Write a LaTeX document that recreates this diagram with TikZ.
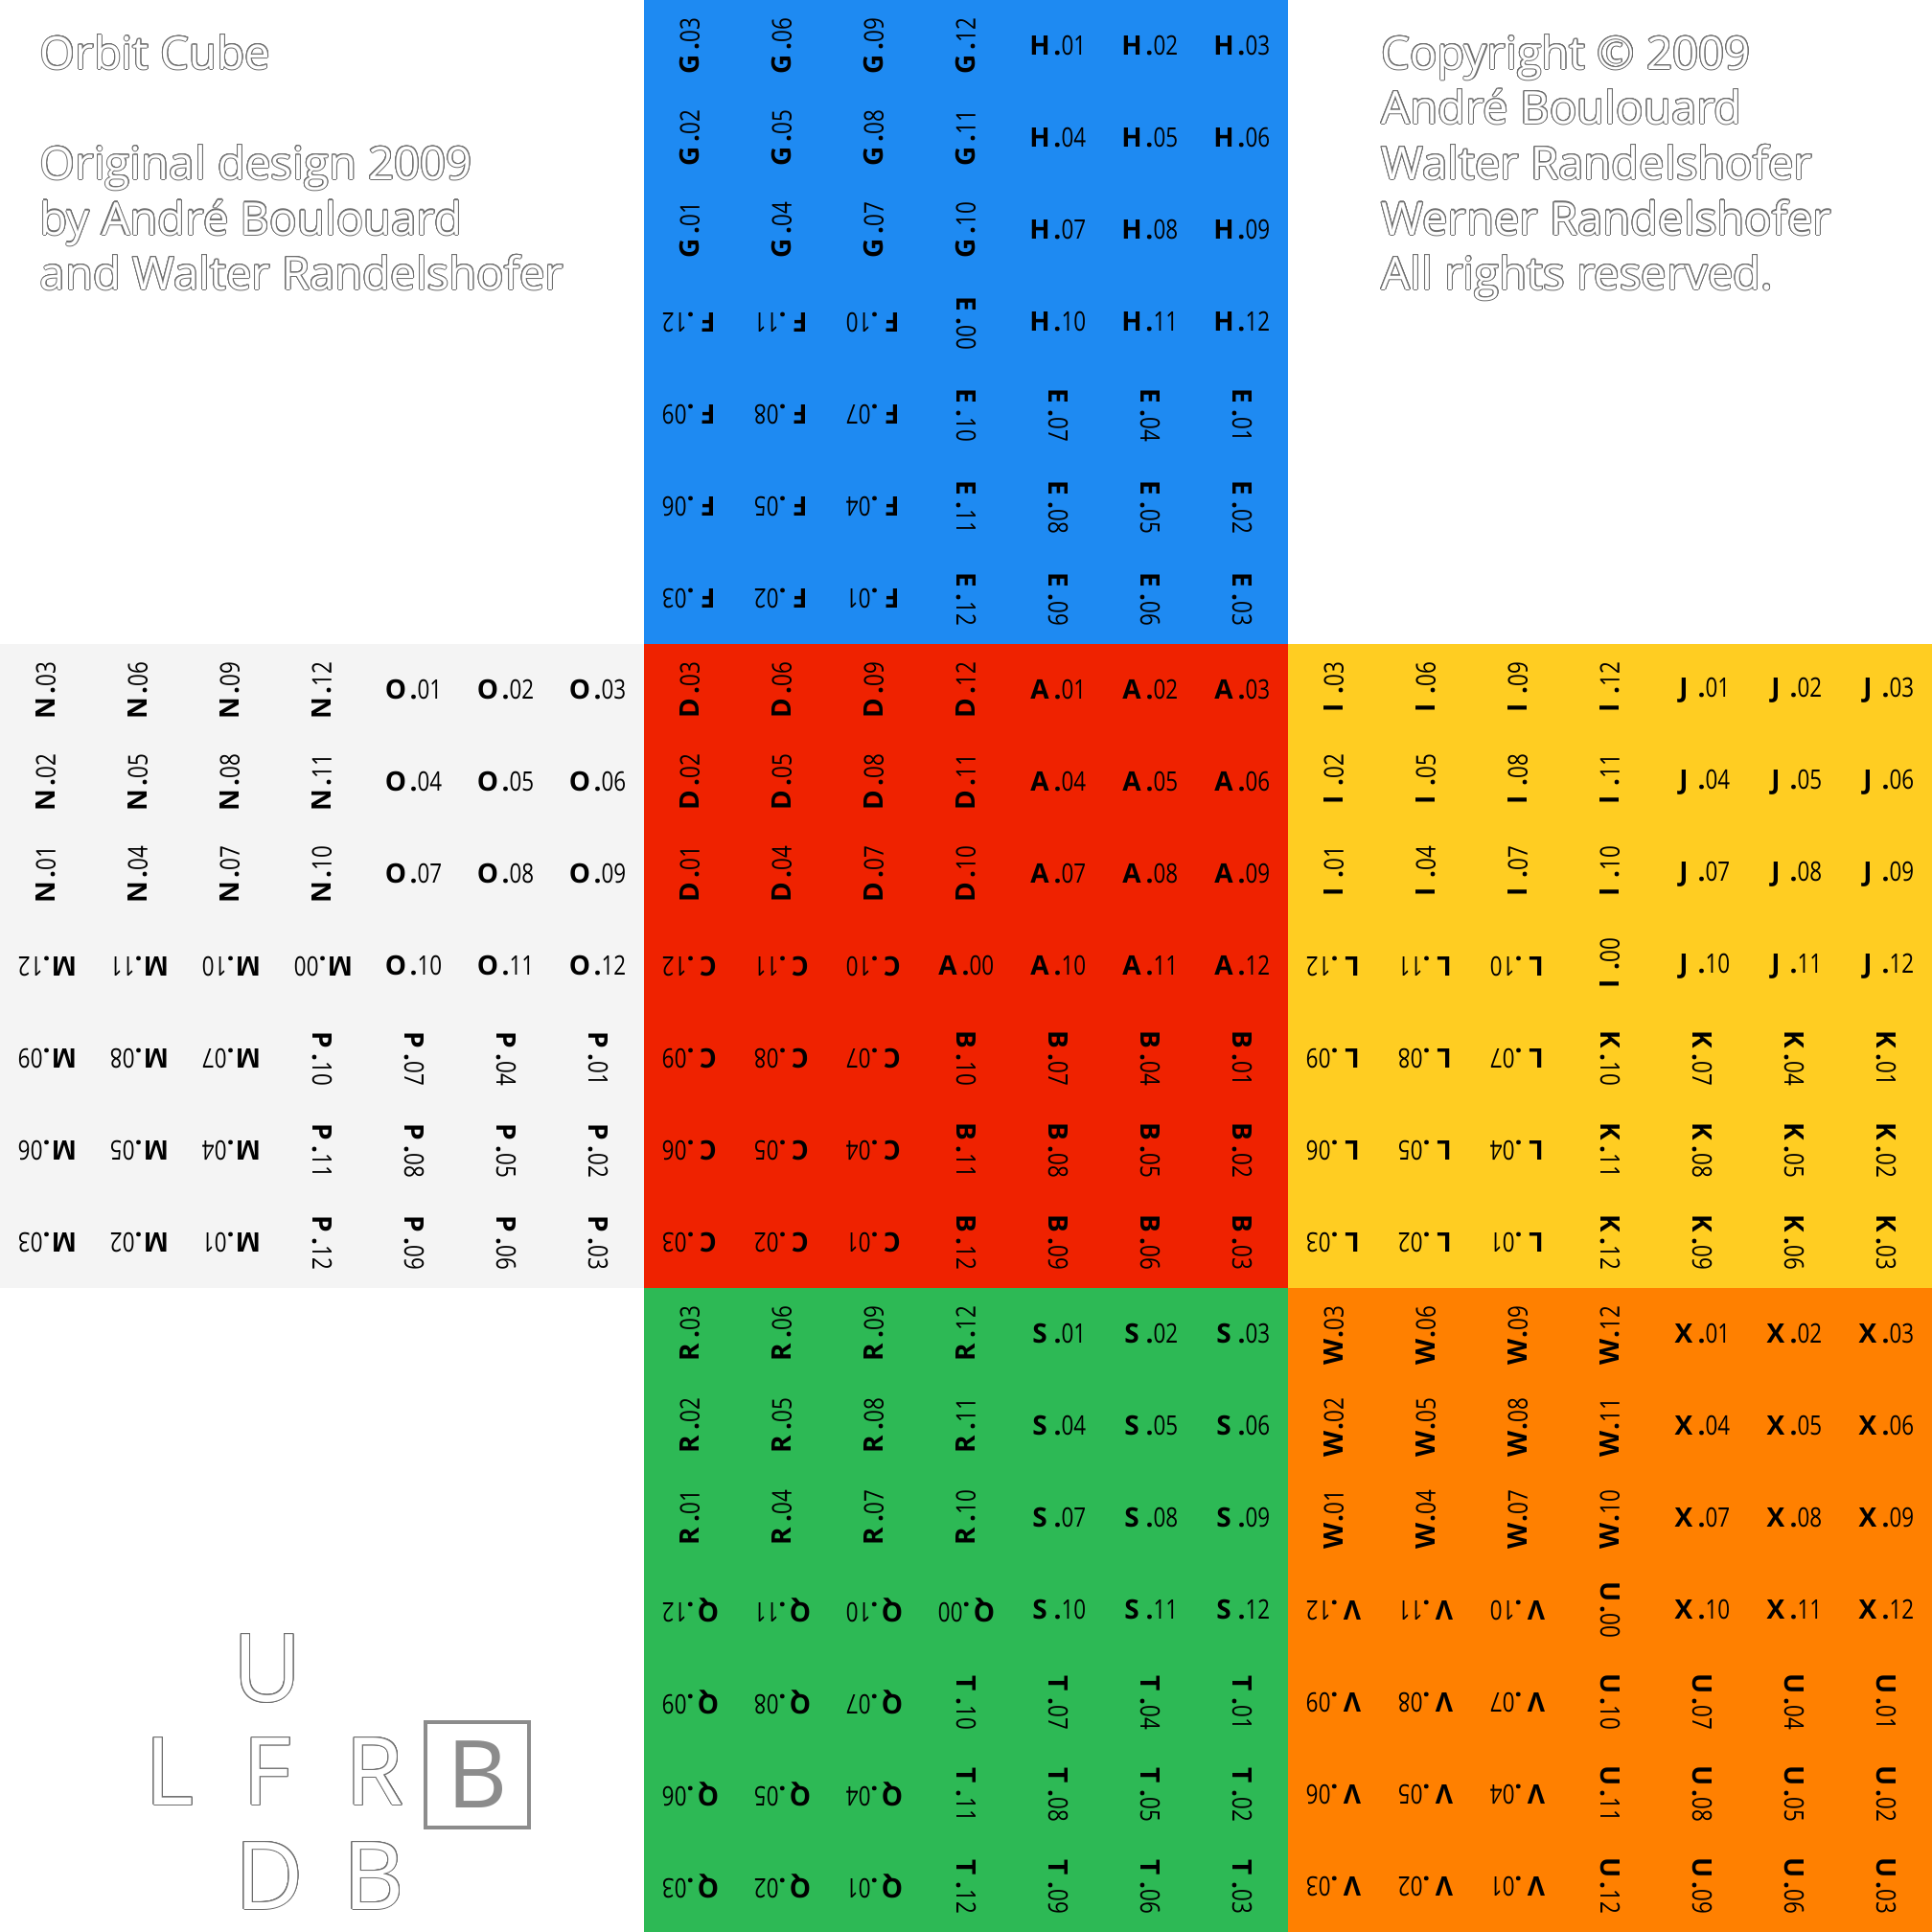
\documentclass[tikz,border=0pt]{standalone}
\usepackage{fontspec}
\setmainfont{Open Sans}
\newfontfamily\numfont[FakeStretch=0.8]{Open Sans}
\usepackage[copies]{contour}
\contourlength{0.3pt}
\definecolor{cblue}{RGB}{30,138,242}
\definecolor{cred}{RGB}{239,34,0}
\definecolor{cgrayface}{RGB}{244,244,244}
\definecolor{cyellow}{RGB}{255,205,34}
\definecolor{cgreen}{RGB}{45,185,85}
\definecolor{corange}{RGB}{255,128,0}
\definecolor{outl}{RGB}{110,110,110}
\definecolor{bgray}{RGB}{140,140,140}
\newcommand\twod[1]{\ifnum#1<10 0\fi#1}
\newcommand\lbltxt[2]{\makebox[6pt][c]{\bfseries #1}\hspace{1.3pt}{\bfseries .}{\numfont #2}}
\tikzset{
  lbl/.style={inner sep=0pt, text=black, font=\fontsize{8.3}{10}\selectfont},
  corner/.style={inner sep=0pt, anchor=base west, text=white, font=\fontsize{14}{16}\selectfont},
  bigl/.style={inner sep=0pt, anchor=base, text=white, font=\fontsize{29}{30}\selectfont},
}
% #1 ox, #2 oy, #3 colour, #4 Q1, #5 Q2, #6 Q3, #7 Q4, #8 centre letter, #9 centre rotation
\newcommand\face[9]{%
  \fill[#3] (#1,#2) rectangle ++(7,7);
  \foreach \r in {0,1,2}{\foreach \c in {0,...,3}{%
    \pgfmathtruncatemacro\n{3*\c+3-\r}%
    \node[lbl,rotate=90] (#4\twod{\n}) at (#1+\c+0.5,#2+\r+0.5) {\lbltxt{#4}{\twod{\n}}};
  }}
  \foreach \r in {0,...,3}{\foreach \c in {4,5,6}{%
    \pgfmathtruncatemacro\n{3*\r+\c-3}%
    \node[lbl] (#5\twod{\n}) at (#1+\c+0.5,#2+\r+0.5) {\lbltxt{#5}{\twod{\n}}};
  }}
  \foreach \r in {3,...,6}{\foreach \c in {0,1,2}{%
    \pgfmathtruncatemacro\n{3*(6-\r)+3-\c}%
    \node[lbl,rotate=180] (#6\twod{\n}) at (#1+\c+0.5,#2+\r+0.5) {\lbltxt{#6}{\twod{\n}}};
  }}
  \foreach \r in {4,5,6}{\foreach \c in {3,...,6}{%
    \pgfmathtruncatemacro\n{3*(6-\c)+\r-3}%
    \node[lbl,rotate=-90] (#7\twod{\n}) at (#1+\c+0.5,#2+\r+0.5) {\lbltxt{#7}{\twod{\n}}};
  }}
  \node[lbl,rotate=#9] (#800) at (#1+3.5,#2+3.5) {\lbltxt{#8}{00}};
}
\begin{document}
\begin{tikzpicture}[x=1cm,y=-1cm]
\useasboundingbox (0,0) rectangle (21,21);
\fill[white] (0,0) rectangle (21,21);
\face{7}{0}{cblue}{G}{H}{F}{E}{E}{-90}
\face{0}{7}{cgrayface}{N}{O}{M}{P}{M}{180}
\face{7}{7}{cred}{D}{A}{C}{B}{A}{0}
\face{14}{7}{cyellow}{I}{J}{L}{K}{I}{90}
\face{7}{14}{cgreen}{R}{S}{Q}{T}{Q}{180}
\face{14}{14}{corange}{W}{X}{V}{U}{U}{-90}
% top-left text
\node[corner] (tl1) at (0.43,0.75) {\contour{outl}{Orbit Cube}};
\node[corner] (tl2) at (0.43,1.948) {\contour{outl}{Original design 2009}};
\node[corner] (tl3) at (0.43,2.552) {\contour{outl}{by André Boulouard}};
\node[corner] (tl4) at (0.43,3.146) {\contour{outl}{and Walter Randelshofer}};
% top-right text
\node[corner] (tr1) at (15.01,0.75) {\contour{outl}{Copyright © 2009}};
\node[corner] (tr2) at (15.01,1.344) {\contour{outl}{André Boulouard}};
\node[corner] (tr3) at (15.01,1.948) {\contour{outl}{Walter Randelshofer}};
\node[corner] (tr4) at (15.01,2.552) {\contour{outl}{Werner Randelshofer}};
\node[corner] (tr5) at (15.01,3.146) {\contour{outl}{All rights reserved.}};
% bottom-left face letters
\node[bigl] (fU) at (2.906,18.49) {\contour{outl}{U}};
\node[bigl] (fL) at (1.844,19.615) {\contour{outl}{L}};
\node[bigl] (fF) at (2.906,19.615) {\contour{outl}{F}};
\node[bigl] (fR) at (4.073,19.615) {\contour{outl}{R}};
\node[bigl] (fD) at (2.927,20.75) {\contour{outl}{D}};
\node[bigl] (fB) at (4.0625,20.75) {\contour{outl}{B}};
\node[draw=bgray, line width=1.18pt, minimum width=1.125cm, minimum height=1.146cm,
      inner sep=0pt, text=bgray, font=\fontsize{29}{30}\selectfont] (fBox) at (5.1875,19.29) {B};
\end{tikzpicture}
\end{document}
